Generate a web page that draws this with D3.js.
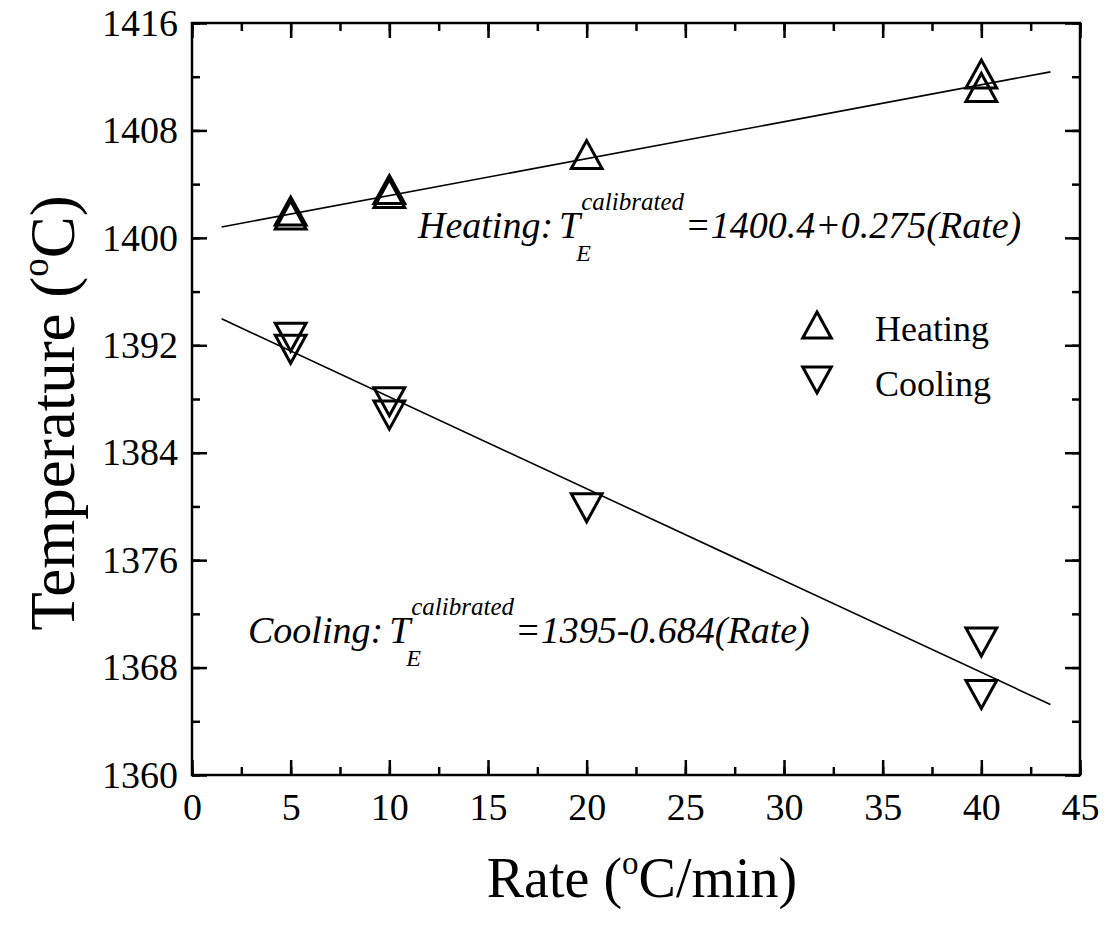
<!DOCTYPE html>
<html>
<head>
<meta charset="utf-8">
<script src="https://cdn.jsdelivr.net/npm/d3@7/dist/d3.min.js"></script>
<style>
  body { margin: 0; background: #fff; }
  svg { display: block; }
  text { font-family: "Liberation Serif", "Times New Roman", serif; fill: #000; }
</style>
</head>
<body>
<svg id="chart" width="1107" height="934"></svg>
<script>
// data
var xTicks = [0, 5, 10, 15, 20, 25, 30, 35, 40, 45];
var yTicks = [1360, 1368, 1376, 1384, 1392, 1400, 1408, 1416];

var heatRate = [5, 5, 10, 10, 20, 40, 40];
var heatTemp = [1402.0, 1401.7, 1403.6, 1403.3, 1406.2, 1412.2, 1411.2];
var coolRate = [5, 5, 10, 10, 20, 40, 40];
var coolTemp = [1392.6, 1391.7, 1387.8, 1386.8, 1379.9, 1369.9, 1366.0];

// fitted lines: intercept, slope ; drawn over this rate range
var fitRange = [1.5, 43.5];
var heatFit = [1400.4, 0.275];
var coolFit = [1395, -0.684];

var legendNames = ["Heating", "Cooling"];

var svg = d3.select("#chart");
var pLeft = 192, pRight = 1080, pTop = 23, pBottom = 775;

var x = d3.scaleLinear().domain([0, 45]).range([pLeft, pRight]);
var y = d3.scaleLinear().domain([1360, 1416]).range([pBottom, pTop]);

var xMinor = d3.range(0, 45.01, 2.5);
var yMinor = d3.range(1360, 1416.01, 4);

function styleAxis(g){
  g.select(".domain").remove();
  g.selectAll("line").attr("stroke", "#000").attr("stroke-width", 2.5);
  g.selectAll("text").style("font-size", "38px")
    .style("font-family", "'Liberation Serif', serif");
}

// minor ticks (drawn first, majors cover them)
svg.append("g").attr("transform", "translate(0," + pBottom + ")")
  .call(d3.axisBottom(x).tickValues(xMinor).tickSizeInner(-8).tickSizeOuter(0).tickFormat(""))
  .call(styleAxis);
svg.append("g").attr("transform", "translate(0," + pTop + ")")
  .call(d3.axisTop(x).tickValues(xMinor).tickSizeInner(-8).tickSizeOuter(0).tickFormat(""))
  .call(styleAxis);
svg.append("g").attr("transform", "translate(" + pLeft + ",0)")
  .call(d3.axisLeft(y).tickValues(yMinor).tickSizeInner(-8).tickSizeOuter(0).tickFormat(""))
  .call(styleAxis);
svg.append("g").attr("transform", "translate(" + pRight + ",0)")
  .call(d3.axisRight(y).tickValues(yMinor).tickSizeInner(-8).tickSizeOuter(0).tickFormat(""))
  .call(styleAxis);

// major ticks
var xb = svg.append("g").attr("transform", "translate(0," + pBottom + ")")
  .call(d3.axisBottom(x).tickValues(xTicks).tickSizeInner(-15).tickSizeOuter(0).tickPadding(18).tickFormat(d3.format("d")))
  .call(styleAxis);
xb.selectAll("text").attr("dy", "0.71em");
svg.append("g").attr("transform", "translate(0," + pTop + ")")
  .call(d3.axisTop(x).tickValues(xTicks).tickSizeInner(-15).tickSizeOuter(0).tickFormat(""))
  .call(styleAxis);
svg.append("g").attr("transform", "translate(" + pLeft + ",0)")
  .call(d3.axisLeft(y).tickValues(yTicks).tickSizeInner(-15).tickSizeOuter(0).tickPadding(14).tickFormat(d3.format("d")))
  .call(styleAxis);
svg.append("g").attr("transform", "translate(" + pRight + ",0)")
  .call(d3.axisRight(y).tickValues(yTicks).tickSizeInner(-15).tickSizeOuter(0).tickFormat(""))
  .call(styleAxis);

// frame
svg.append("rect")
  .attr("x", pLeft).attr("y", pTop)
  .attr("width", pRight - pLeft).attr("height", pBottom - pTop)
  .attr("fill", "none").attr("stroke", "#000").attr("stroke-width", 2.5);

// fit lines
var line = d3.line().x(function(d){ return x(d[0]); }).y(function(d){ return y(d[1]); });
[heatFit, coolFit].forEach(function(f){
  var pts = fitRange.map(function(r){ return [r, f[0] + f[1] * r]; });
  svg.append("path").attr("d", line(pts))
    .attr("fill", "none").attr("stroke", "#000").attr("stroke-width", 1.6);
});

// triangle markers, bbox centred on the point
function tri(cx, cy, up, s){
  var h = s / 2, w = s * 0.55;
  if(up) return "M" + cx + "," + (cy - h) + "L" + (cx + w) + "," + (cy + h) + "L" + (cx - w) + "," + (cy + h) + "Z";
  return "M" + cx + "," + (cy + h) + "L" + (cx + w) + "," + (cy - h) + "L" + (cx - w) + "," + (cy - h) + "Z";
}

function drawSeries(rates, temps, up){
  svg.append("g").selectAll("path")
    .data(rates.map(function(r, i){ return [r, temps[i]]; }))
    .enter().append("path")
      .attr("d", function(d){ return tri(x(d[0]), y(d[1]), up, 28); })
      .attr("fill", "none").attr("stroke", "#000").attr("stroke-width", 3)
      .attr("stroke-linejoin", "miter");
}
drawSeries(heatRate, heatTemp, true);
drawSeries(coolRate, coolTemp, false);

// equations
function equation(x0, base, label, rest){
  var g = svg.append("g").style("font-style", "italic");
  var t0 = g.append("text").attr("x", x0).attr("y", base)
    .style("font-size", "38px").text(label + ":");
  var xt0 = x0 + t0.node().getComputedTextLength() + 6;
  var t1 = g.append("text").attr("x", xt0).attr("y", base)
    .style("font-size", "38px").text("T");
  var xe = xt0 + t1.node().getComputedTextLength();
  g.append("text").attr("x", xe - 4).attr("y", base + 23)
    .style("font-size", "24px").text("E");
  var sup = g.append("text").attr("x", xe + 1).attr("y", base - 28)
    .style("font-size", "25px").text("calibrated");
  var xr = xe + 1 + sup.node().getComputedTextLength() + 1;
  g.append("text").attr("x", xr).attr("y", base)
    .style("font-size", "38px").text(rest);
}
equation(418, 238, "Heating", "=1400.4+0.275(Rate)");
equation(248, 643, "Cooling", "=1395-0.684(Rate)");

// legend
legendNames.forEach(function(name, i){
  var ly = 325 + i * 55;
  svg.append("path").attr("d", tri(817, ly, i === 0, 26))
    .attr("fill", "none").attr("stroke", "#000").attr("stroke-width", 3);
  svg.append("text").attr("x", 875).attr("y", ly + 16)
    .style("font-size", "36px").text(name);
});

// axis titles
var xt = svg.append("text").attr("x", 642).attr("y", 897)
  .attr("text-anchor", "middle").style("font-size", "56px");
xt.append("tspan").text("Rate (");
xt.append("tspan").attr("dy", -23).style("font-size", "33px").text("o");
xt.append("tspan").attr("dy", 23).text("C/min)");

var yt = svg.append("text")
  .attr("transform", "translate(74,413) rotate(-90)")
  .attr("text-anchor", "middle").style("font-size", "63px");
yt.append("tspan").text("Temperature (");
yt.append("tspan").attr("dy", -26).style("font-size", "37px").text("o");
yt.append("tspan").attr("dy", 26).text("C)");
</script>
</body>
</html>
